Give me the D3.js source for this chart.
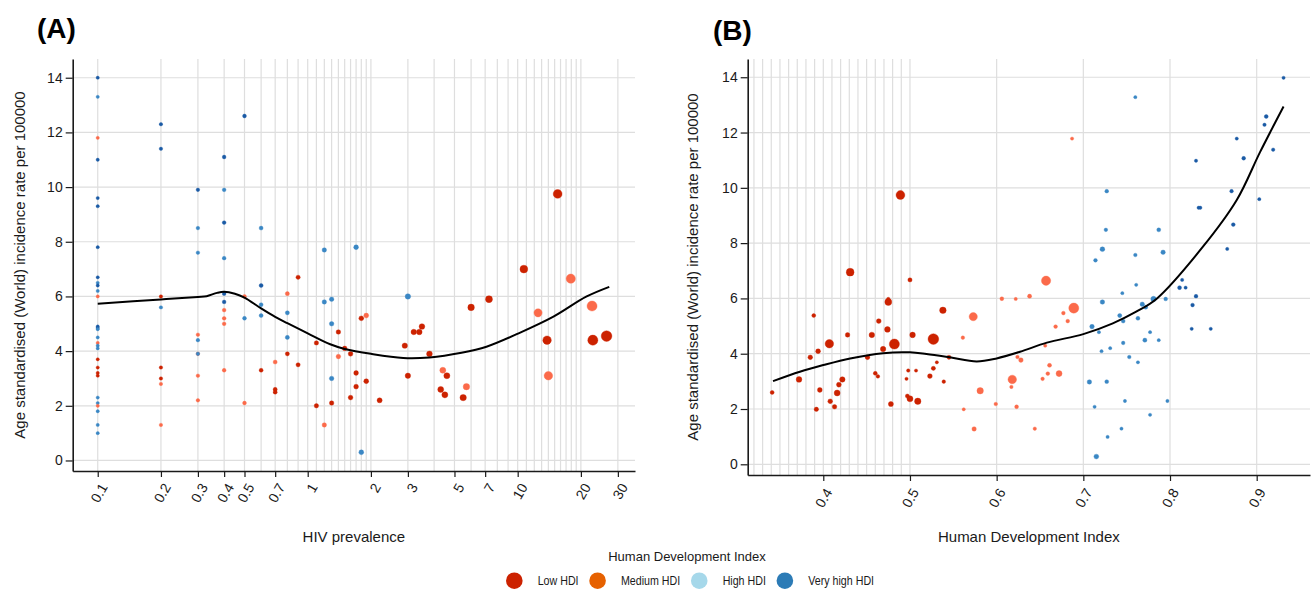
<!doctype html>
<html>
<head>
<meta charset="utf-8">
<title>HIV prevalence, HDI and incidence</title>
<script src="https://cdnjs.cloudflare.com/ajax/libs/d3/7.8.5/d3.min.js"></script>
<style>
  body { margin: 0; background: #fff; }
  svg { font-family: "Liberation Sans", Arial, sans-serif; }
</style>
</head>
<body>
<script>

var w = 1312;
var h = 590;

//PANEL A: HIV PREVALENCE VS INCIDENCE (one line per prevalence level)
var hivA = [
  0.1,0.1,0.1,0.1,0.1,0.1,0.1,0.1,0.1,0.1,0.1,0.1,0.1,0.1,0.1,0.1,0.1,0.1,0.1,0.1,0.1,0.1,0.1,0.1,0.1,0.1,0.1,0.1,0.1,
  0.2,0.2,0.2,0.2,0.2,0.2,0.2,0.2,
  0.3,0.3,0.3,0.3,0.3,0.3,0.3,0.3,0.3,
  0.4,0.4,0.4,0.4,0.4,0.4,0.4,0.4,0.4,0.4,
  0.5,0.5,0.5,0.5,
  0.6,0.6,0.6,0.6,0.6,
  0.7,0.7,0.7,
  0.8,0.8,0.8,0.8,
  0.9,0.9,
  1.1,1.1,
  1.2,1.2,1.2,
  1.3,1.3,1.3,1.3,
  1.4,1.4,
  1.5,
  1.6,1.6,
  1.7,1.7,1.7,
  1.8,1.8,
  1.9,1.9,
  2.2,2.9,3.0,3.0,3.2,3.4,3.5,3.8,4.3,4.4,4.5,4.6,5.5,5.7,6.0,7.3,10.7,12.5,13.8,14.0,15.5,17.9,22.6,22.8,26.5
];
var rateA = [
  14.0,13.3,11.8,11.0,9.6,9.3,7.8,6.7,6.5,6.4,6.2,6.0,4.9,4.85,4.8,4.5,4.3,4.2,4.1,3.7,3.4,3.2,3.1,2.3,2.1,2.0,1.8,1.3,1.0,
  12.3,11.4,6.0,5.6,3.4,3.0,2.8,1.3,
  9.9,8.5,7.6,4.6,4.4,3.9,3.9,3.1,2.2,
  11.1,9.9,8.7,7.4,6.1,5.8,5.5,5.2,5.0,3.3,
  12.6,6.0,5.2,2.1,
  8.5,6.4,5.7,5.3,3.3,
  3.6,2.6,2.5,
  6.1,5.4,4.5,3.9,
  6.7,3.5,
  4.3,2.0,
  7.7,5.8,1.3,
  5.9,5.0,3.0,2.1,
  4.7,3.8,
  4.1,
  3.9,2.3,
  7.8,3.2,2.7,
  5.2,0.3,
  5.3,2.9,
  2.2,4.2,6.0,3.1,4.7,4.7,4.9,3.9,2.6,3.3,2.4,3.1,2.3,2.7,5.6,5.9,7.0,5.4,4.4,3.1,9.75,6.65,5.65,4.4,4.55
];
// L = low, M = medium, H = high, V = very high HDI
var groupA = [
  "V","H","M","V","V","V","V","V","H","V","H","M","V","V","H","H","M","H","H","L","L","L","L","H","H","M","H","H","H",
  "V","V","L","H","L","L","M","M",
  "V","H","H","M","H","M","H","M","M",
  "V","H","V","H","V","V","M","M","M","M",
  "V","M","H","M",
  "H","V","H","H","L",
  "M","L","L",
  "M","H","H","L",
  "L","L",
  "L","L",
  "H","H","M",
  "H","H","H","L",
  "L","M",
  "L",
  "L","L",
  "H","L","L",
  "L","H",
  "M","L",
  "L","L","H","L","L","L","L","L","L","M","L","L","L","M","L","L","L","M","L","M","L","M","M","L","L"
];

//PANEL B: HDI VS INCIDENCE (hivB only sets the dot size)
var hdiB = [
  0.341,0.372,0.389,0.385,0.394,0.407,0.396,0.392,0.408,0.413,0.416,0.418,0.422,0.428,0.431,0.451,0.456,0.460,0.463,0.464,0.469,
  0.474,0.475,0.475,0.478,0.482,0.489,0.496,0.497,0.498,0.500,0.500,0.503,0.507,0.509,0.523,0.527,0.527,0.531,0.538,0.539,0.545,
  0.561,0.562,0.573,0.574,0.581,0.599,0.606,0.617,0.618,0.622,0.623,0.624,0.628,0.638,0.644,0.653,0.656,0.657,0.659,0.661,
  0.668,0.672,0.677,0.682,0.687,0.689,
  0.707,0.710,0.713,0.714,0.715,0.718,0.721,0.722,0.722,0.726,0.727,0.727,0.728,0.731,0.742,0.744,0.745,0.746,0.746,0.748,
  0.753,0.760,0.760,0.761,0.763,0.763,0.768,0.771,0.772,0.777,0.777,0.781,0.787,0.787,0.792,0.795,0.797,
  0.811,0.814,0.818,0.825,0.826,0.830,0.830,0.833,0.835,0.847,0.866,0.871,0.873,0.877,0.885,0.903,0.909,0.911,0.919,0.931
];
var rateB = [
  2.6,3.07,5.38,3.87,4.09,4.36,2.69,1.99,2.28,2.08,2.58,2.88,3.07,4.68,6.95,3.87,4.68,3.29,3.18,5.18,4.17,
  4.88,5.87,5.98,2.18,4.35,9.74,3.09,2.47,3.39,2.37,6.67,4.68,3.39,2.28,3.19,3.47,4.53,3.69,5.57,2.99,3.87,
  4.58,1.99,5.34,1.28,2.66,2.18,5.99,2.80,3.07,5.98,2.08,3.88,3.77,6.08,1.29,3.09,4.29,6.64,3.28,3.58,
  4.98,3.28,5.47,5.18,11.78,5.65,
  2.98,4.98,2.08,7.38,0.28,4.78,4.09,5.87,7.78,8.48,9.88,2.99,0.99,4.20,5.38,1.29,6.19,5.18,4.39,2.29,
  3.88,13.28,7.57,6.49,5.28,3.69,5.79,4.49,5.68,4.78,1.79,5.98,8.48,4.49,7.67,5.98,2.29,
  6.39,6.67,6.39,4.90,5.76,6.08,10.98,9.28,9.28,4.90,7.79,9.88,8.67,11.78,11.07,9.59,12.28,12.58,11.38,13.98
];
var hivB = [
  0.6,3.5,0.5,1.5,1.8,13.7,1.9,1.1,1.6,1.3,4.3,1.9,3.0,1.4,10.7,1.6,3.2,0.6,0.3,1.8,2.9,
  3.5,7.3,0.2,2.2,22.8,15.5,0.1,0.7,0.2,4.5,0.9,3.4,0.1,5.5,1.7,0.9,26.5,0.1,6.0,0.3,0.8,
  0.3,0.1,12.5,1.2,5.7,0.3,0.5,0.2,14.0,0.1,0.5,0.3,1.4,0.8,0.2,0.3,0.1,17.9,0.4,0.7,
  0.4,4.4,0.4,0.4,0.1,22.6,
  1.3,1.3,0.1,0.4,1.8,0.1,0.1,1.3,1.7,0.3,0.4,0.5,0.1,0.1,0.8,0.1,0.1,0.5,0.3,0.1,
  0.3,0.1,0.3,0.1,0.6,0.1,1.2,0.8,0.6,0.1,0.1,3.0,0.6,0.1,1.2,0.4,0.1,
  0.6,0.1,0.1,0.1,0.4,0.4,0.1,0.1,0.1,0.1,0.1,0.3,0.4,0.1,0.4,0.1,0.2,0.5,0.2,0.1
];

//SMOOTHED TRENDS
var trendAx = [0.1,0.2,0.3,0.33,0.37,0.4,0.45,0.5,0.6,0.7,0.8,1.0,1.28,1.5,2.0,2.85,3.8,5.4,7.1,10.1,14.8,21.2,27.3];
var trendAy = [5.73,5.89,5.98,6.01,6.13,6.17,6.1,5.96,5.56,5.25,5.02,4.65,4.25,4.08,3.9,3.75,3.77,3.94,4.16,4.65,5.26,5.99,6.35];
var trendBx = [0.342,0.373,0.4,0.431,0.469,0.5,0.519,0.546,0.577,0.6,0.627,0.658,0.7,0.734,0.761,0.785,0.838,0.877,0.904,0.931];
var trendBy = [3.01,3.35,3.59,3.83,4.02,4.05,3.99,3.87,3.72,3.83,4.07,4.4,4.71,5.1,5.52,6.0,7.87,9.56,11.3,12.94];

//TICKS AND CATEGORIES
var yTicks = [0, 2, 4, 6, 8, 10, 12, 14];
var hivTicks = [0.1, 0.2, 0.3, 0.4, 0.5, 0.7, 1, 2, 3, 5, 7, 10, 20, 30];
var hdiTicks = [0.4, 0.5, 0.6, 0.7, 0.8, 0.9];
var groupCodes = ["L", "M", "H", "V"];
var groupNames = ["Low HDI", "Medium HDI", "High HDI", "Very high HDI"];
var hdiCuts = [0.55, 0.7, 0.8];
var pointColours = ["#cc2200", "#fb6a4a", "#3a87c4", "#1a5aa5"];
var legendColours = ["#cc2200", "#e66100", "#a6d8ea", "#2c7bb6"];

var colourA = d3.scaleOrdinal().domain(groupCodes).range(pointColours);
var colourB = d3.scaleThreshold().domain(hdiCuts).range(pointColours);
var size = d3.scaleSqrt().domain([0, 27]).range([1.4, 5.4]);

var gridA = d3.range(1, 21).map(function(i){ return i / 10; }).concat(d3.range(3, 21)).concat([30]);
var gridB = d3.range(32, 51).map(function(i){ return i / 100; }).concat([0.6, 0.7, 0.8, 0.9]);

var ink = "#1a1a1a";

//CREATING SVG
var svg = d3.select("body").append("svg").attr("width", w).attr("height", h);

function drawPanel(p) {
  var g = svg.append("g");
  var xr = p.x.range(), yr = p.y.range();

  //GRID
  g.selectAll("line.hg").data(yTicks).enter().append("line")
    .attr("x1", xr[0]).attr("x2", xr[1])
    .attr("y1", function(d){ return p.y(d); })
    .attr("y2", function(d){ return p.y(d); })
    .attr("stroke", "#dedede").attr("stroke-width", 1.2);
  g.selectAll("line.vg").data(p.grid).enter().append("line")
    .attr("y1", yr[0]).attr("y2", yr[1])
    .attr("x1", function(d){ return p.x(d); })
    .attr("x2", function(d){ return p.x(d); })
    .attr("stroke", "#dedede").attr("stroke-width", 1.2);

  //DOTS
  g.selectAll("circle").data(p.pts).enter().append("circle")
    .attr("cx", function(d){ return p.x(d.x); })
    .attr("cy", function(d){ return p.y(d.y); })
    .attr("r", function(d){ return size(d.s); })
    .attr("fill", function(d){ return d.c; })
    .attr("stroke", function(d){ return d.c; })
    .attr("stroke-opacity", 0.45)
    .attr("stroke-width", 0.8);

  //TREND LINE
  var line = d3.line()
    .x(function(d){ return p.x(d[0]); })
    .y(function(d){ return p.y(d[1]); })
    .curve(d3.curveCatmullRom.alpha(0.5));
  g.append("path").datum(d3.zip(p.tx, p.ty))
    .attr("d", line).attr("fill", "none")
    .attr("stroke", "#000").attr("stroke-width", 2);

  //AXES
  var ya = g.append("g").attr("transform", "translate(" + xr[0] + ",0)")
    .call(d3.axisLeft(p.y).tickValues(yTicks).tickSize(7).tickPadding(3).tickSizeOuter(0));
  var xa = g.append("g").attr("transform", "translate(0," + yr[0] + ")")
    .call(d3.axisBottom(p.x).tickValues(p.ticks).tickFormat(p.fmt).tickSize(6).tickSizeOuter(0));
  [ya, xa].forEach(function(a){
    a.select(".domain").attr("stroke", ink).attr("stroke-width", 1.6);
    a.selectAll(".tick line").attr("stroke", ink).attr("stroke-width", 1.2);
    a.selectAll("text").attr("fill", ink).style("font-size", "14px")
      .style("font-family", "'Liberation Sans', Arial, sans-serif");
  });
  xa.selectAll("text")
    .attr("x", 0).attr("y", 0).attr("dy", 0)
    .attr("transform", "translate(" + p.lab[0] + "," + p.lab[1] + ") rotate(-60)")
    .style("text-anchor", "end");

  //TITLES
  g.append("text").text(p.xTitle)
    .attr("x", (xr[0] + xr[1]) / 2).attr("y", 542)
    .attr("text-anchor", "middle").attr("fill", ink).style("font-size", "15px");
  g.append("text").text("Age standardised (World) incidence rate per 100000")
    .attr("transform", "translate(" + p.yTitleX + "," + (yr[0] + yr[1]) / 2 + ") rotate(-90)")
    .attr("text-anchor", "middle").attr("fill", ink).style("font-size", "15px");
  g.append("text").text(p.tag)
    .attr("x", p.tagPos[0]).attr("y", p.tagPos[1])
    .attr("fill", "#000").style("font-size", "28px").style("font-weight", "bold");
}

var ptsA = hivA.map(function(v, i){ return {x: v, y: rateA[i], s: v, c: colourA(groupA[i])}; });
var ptsB = hdiB.map(function(v, i){ return {x: v, y: rateB[i], s: hivB[i], c: colourB(v)}; });

drawPanel({
  x: d3.scaleLog().domain([0.076, 36.2]).range([72.7, 635]),
  y: d3.scaleLinear().domain([-0.385, 14.685]).range([471, 59]),
  grid: gridA, ticks: hivTicks, fmt: function(d){ return String(d); },
  pts: ptsA, tx: trendAx, ty: trendAy, lab: [10, 16],
  xTitle: "HIV prevalence", yTitleX: 25, tag: "(A)", tagPos: [37, 38]
});

drawPanel({
  x: d3.scaleLinear().domain([0.3128, 0.9615]).range([747.7, 1310]),
  y: d3.scaleLinear().domain([-0.387, 14.66]).range([475, 59]),
  grid: gridB, ticks: hdiTicks, fmt: d3.format(".1f"),
  pts: ptsB, tx: trendBx, ty: trendBy, lab: [9, 17],
  xTitle: "Human Development Index", yTitleX: 698, tag: "(B)", tagPos: [713, 40]
});

//LEGEND (labels squeezed to mimic the narrow face of the original)
var lg = svg.append("g");
lg.append("text").text("Human Development Index")
  .attr("x", 687).attr("y", 561).attr("text-anchor", "middle")
  .attr("fill", ink).style("font-size", "13px");
var cx = 514.3;
groupNames.forEach(function(name, i){
  lg.append("circle").attr("cx", cx).attr("cy", 580.7).attr("r", 8.3).attr("fill", legendColours[i]);
  var t = lg.append("text").text(name)
    .attr("x", cx + 23.4).attr("y", 585)
    .attr("fill", ink)
    .style("font-size", "13px");
  var tw = t.node().getComputedTextLength() * 0.82;
  t.attr("textLength", tw).attr("lengthAdjust", "spacingAndGlyphs");
  cx = cx + 23.4 + tw + 19;
});

</script>
</body>
</html>
